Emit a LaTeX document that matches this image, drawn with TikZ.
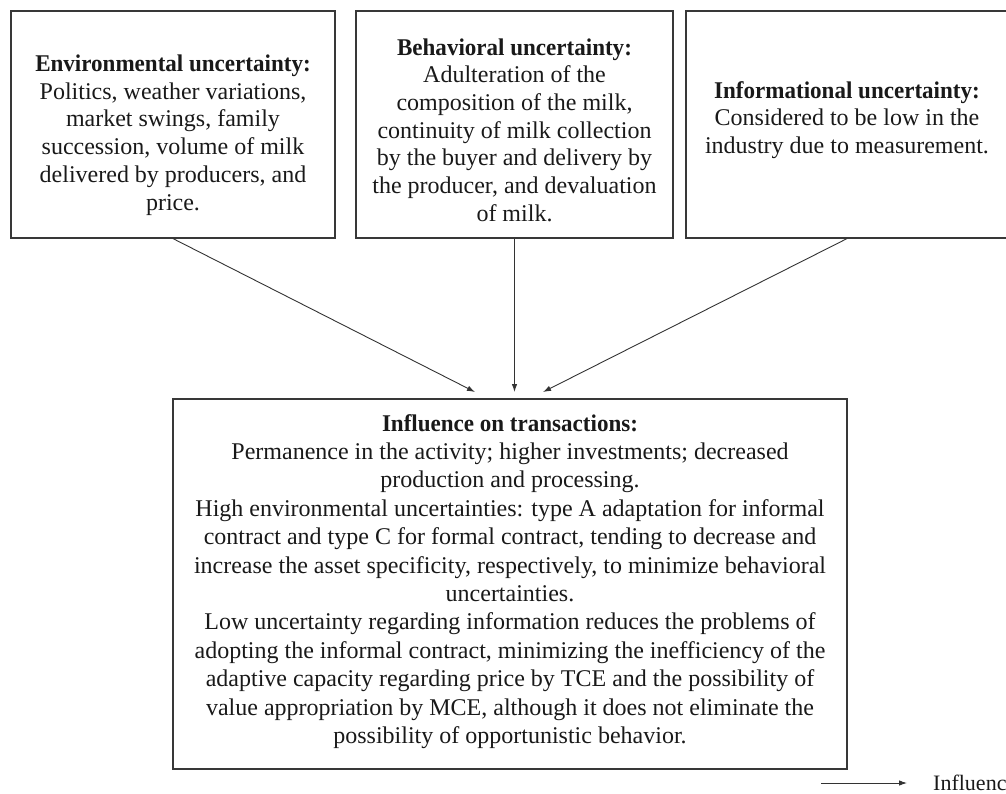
\documentclass[tikz,border=0pt]{standalone}
\usepackage{fontspec}
\setmainfont{Liberation Serif}[BoldFeatures={FakeStretch=0.96}]
\usetikzlibrary{arrows.meta}
\begin{document}
\begin{tikzpicture}[x=1pt,y=-1pt,
  box/.style={draw=black!78,line width=1.2pt,rectangle,inner sep=0pt},
  txt/.style={align=center,text=black!90,inner sep=0pt,font=\fontsize{24}{27.7}\selectfont},
  btxt/.style={align=center,text=black!90,inner sep=0pt,font=\fontsize{24}{28.4}\selectfont},
  conn/.style={draw=black!80,line width=0.9pt,-{Latex[length=8pt,width=5.5pt]}}]
\useasboundingbox (0,0) rectangle (1006,794);
\clip (0,0) rectangle (1006,794);
% boxes
\node[box,minimum width=324pt,minimum height=227pt] (env) at (173,124.5) {};
\node[box,minimum width=317pt,minimum height=227pt] (beh) at (514.5,124.5) {};
\node[box,minimum width=322pt,minimum height=227pt] (inf) at (847,124.5) {};
\node[box,minimum width=674pt,minimum height=370pt] (tra) at (510,584) {};
% texts
\node[txt] (envt) at (173,135) {\textbf{Environmental uncertainty:}\\Politics, weather variations,\\market swings, family\\succession, volume of milk\\delivered by producers, and\\price.};
\node[txt] (beht) at (514.5,130) {\textbf{Behavioral uncertainty:}\\Adulteration of the\\composition of the milk,\\continuity of milk collection\\by the buyer and delivery by\\the producer, and devaluation\\of milk.};
\node[txt] (inft) at (847,120) {\textbf{Informational uncertainty:}\\Considered to be low in the\\industry due to measurement.};
\node[btxt] (trat) at (510,581.5) {\textbf{Influence on transactions:}\\Permanence in the activity; higher investments; decreased\\production and processing.\\High environmental uncertainties: type A adaptation for informal\\contract and type C for formal contract, tending to decrease and\\increase the asset specificity, respectively, to minimize behavioral\\uncertainties.\\Low uncertainty regarding information reduces the problems of\\adopting the informal contract, minimizing the inefficiency of the\\adaptive capacity regarding price by TCE and the possibility of\\value appropriation by MCE, although it does not eliminate the\\possibility of opportunistic behavior.};
% arrow tips
\coordinate (t1) at (475,392);
\coordinate (t2) at (514.5,392);
\coordinate (t3) at (543,392);
\draw[conn] (env.south) -- (t1);
\draw[conn] (beh.south) -- (t2);
\draw[conn] (inf.south) -- (t3);
% legend
\coordinate (la) at (821,783);
\coordinate (lb) at (907,783);
\draw[conn] (la) -- (lb);
\node[anchor=west,inner sep=0pt,text=black!90,font=\fontsize{22}{26}\selectfont] (lt) at (933,783) {Influence};
\end{tikzpicture}
\end{document}
